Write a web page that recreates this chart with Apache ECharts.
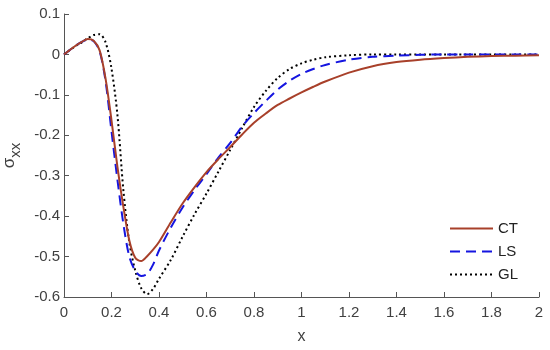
<!DOCTYPE html>
<html>
<head>
<meta charset="utf-8">
<script src="https://cdn.jsdelivr.net/npm/echarts@6/dist/echarts.min.js"></script>
<style>html,body{margin:0;padding:0;background:#fff;}#c{width:550px;height:350px;}</style>
</head>
<body>
<div id="c"></div>
<script>
var xs = [0,0.025,0.05,0.075,0.1,0.125,0.15,0.175,0.2,0.225,0.25,0.275,0.3,0.325,0.35,0.375,0.4,0.45,0.5,0.55,0.6,0.65,0.7,0.75,0.8,0.85,0.9,0.95,1.0,1.05,1.1,1.2,1.3,1.4,1.5,1.6,1.7,1.8,1.9,2.0];
var ctVals = [0,0.011,0.022,0.031,0.038,0.034,0.010,-0.060,-0.163,-0.278,-0.377,-0.46,-0.503,-0.511,-0.499,-0.483,-0.464,-0.415,-0.368,-0.328,-0.291,-0.259,-0.229,-0.198,-0.169,-0.146,-0.125,-0.109,-0.094,-0.080,-0.067,-0.045,-0.029,-0.019,-0.013,-0.009,-0.006,-0.004,-0.003,-0.002];
var lsVals = [0,0.011,0.022,0.031,0.037,0.033,0.008,-0.066,-0.19,-0.31,-0.419,-0.50,-0.535,-0.548,-0.543,-0.52,-0.485,-0.428,-0.378,-0.335,-0.296,-0.255,-0.219,-0.178,-0.145,-0.115,-0.087,-0.065,-0.048,-0.036,-0.026,-0.013,-0.006,-0.003,-0.001,0,0,0,0,0];
var glVals = [0,0.011,0.021,0.030,0.040,0.048,0.050,0.030,-0.035,-0.15,-0.336,-0.465,-0.535,-0.578,-0.593,-0.58,-0.555,-0.508,-0.45,-0.395,-0.344,-0.29,-0.236,-0.182,-0.130,-0.090,-0.058,-0.036,-0.022,-0.013,-0.007,-0.002,0,0,0,0,0,0,0,0];
var seriesNames = ['CT','LS','GL'];
var xTicks = {min:0, max:2, interval:0.2};
var yTicks = {min:-0.6, max:0.1, interval:0.1};

function pairs(v){ return xs.map(function(x,i){ return [x, v[i]]; }); }

var chart = echarts.init(document.getElementById('c'), null, {renderer:'canvas'});
var axisCol = '#555555';
var labCol = '#404040';
var fontFam = '"Liberation Sans", Arial, sans-serif';
chart.setOption({
  animation:false,
  backgroundColor:'#ffffff',
  grid:{left:64, right:11, top:14, bottom:53, containLabel:false, outerBoundsMode:'none'},
  legend:{
    orient:'vertical', left:444, top:216, itemWidth:43, itemHeight:14, itemGap:8,
    itemStyle:{opacity:0},
    textStyle:{fontSize:15, color:'#222', fontFamily:fontFam},
    data:seriesNames
  },
  xAxis:{
    type:'value', min:xTicks.min, max:xTicks.max, interval:xTicks.interval,
    name:'x', nameLocation:'middle', nameGap:32,
    nameTextStyle:{fontSize:16, color:labCol, fontFamily:fontFam},
    axisLine:{show:true, onZero:false, lineStyle:{color:axisCol, width:1}},
    axisTick:{show:true, inside:true, length:5, lineStyle:{color:axisCol}},
    axisLabel:{fontSize:15, color:labCol, fontFamily:fontFam, margin:8,
      formatter:function(v){ return String(Math.round(v*10)/10); }},
    splitLine:{show:false}
  },
  yAxis:{
    type:'value', min:yTicks.min, max:yTicks.max, interval:yTicks.interval,
    name:'{s|σ}{sub|xx}', nameLocation:'middle', nameGap:38, nameRotate:90,
    nameTextStyle:{color:labCol, fontFamily:fontFam,
      rich:{s:{fontSize:17, color:labCol, fontFamily:fontFam},
            sub:{fontSize:15, color:labCol, fontFamily:fontFam, padding:[12,0,0,0]}}},
    axisLine:{show:true, onZero:false, lineStyle:{color:axisCol, width:1}},
    axisTick:{show:true, inside:true, length:5, lineStyle:{color:axisCol}},
    axisLabel:{fontSize:15, color:labCol, fontFamily:fontFam, margin:4,
      formatter:function(v){ return String(Math.round(v*10)/10); }},
    splitLine:{show:false}
  },
  series:[
    {name:seriesNames[0], type:'line', data:pairs(ctVals), showSymbol:false, symbol:'none', smooth:0.3,
     lineStyle:{color:'#a8402a', width:2}, itemStyle:{color:'#a8402a'}, z:3},
    {name:seriesNames[1], type:'line', data:pairs(lsVals), showSymbol:false, symbol:'none', smooth:0.3,
     lineStyle:{color:'#1515e0', width:2, type:[10,6]}, itemStyle:{color:'#1515e0'}, z:2},
    {name:seriesNames[2], type:'line', data:pairs(glVals), showSymbol:false, symbol:'none', smooth:0.3,
     lineStyle:{color:'#000000', width:2, type:[2,3]}, itemStyle:{color:'#000000'}, z:1}
  ]
});
</script>
</body>
</html>
